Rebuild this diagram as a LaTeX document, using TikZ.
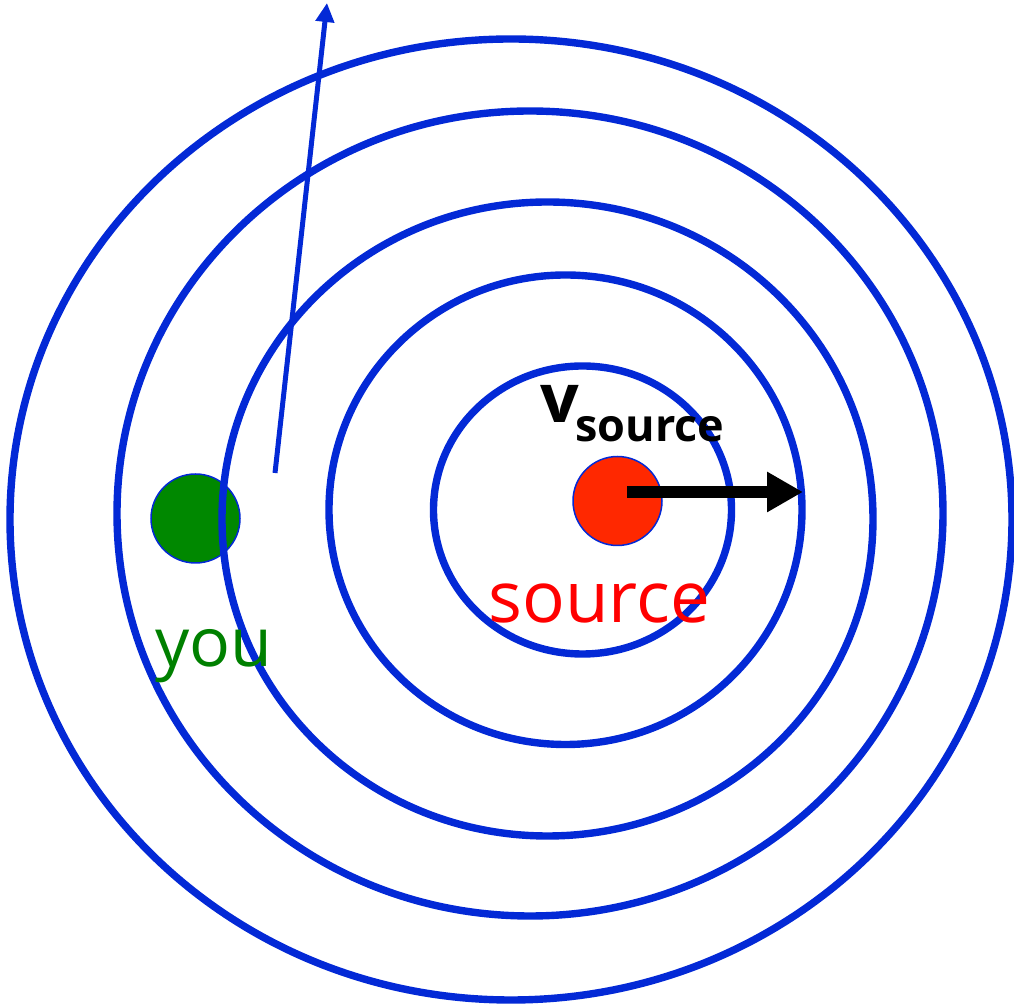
\documentclass[tikz,border=0pt]{standalone}
\usepackage{fontspec}
\setmainfont{Open Sans}
\usetikzlibrary{arrows.meta}
\definecolor{waveblue}{RGB}{3,41,214}
\definecolor{dotgreen}{RGB}{0,136,0}
\definecolor{dotred}{RGB}{255,40,0}
\definecolor{txtgreen}{RGB}{0,128,0}
\definecolor{txtred}{RGB}{255,0,0}
\begin{document}
\begin{tikzpicture}[x=0.5pt,y=-0.5pt,
  wave/.style={draw=waveblue,line width=3.7pt},
  dot/.style={circle,draw=waveblue,line width=0.75pt,inner sep=0pt,minimum size=44.5pt},
  lbl/.style={anchor=base west,inner sep=0pt}]
\useasboundingbox (0,0) rectangle (1014,1004);
% dots
\node[dot,fill=dotgreen] (youdot) at (195.5,518.5) {};
\node[dot,fill=dotred] (srcdot) at (617.5,501) {};
% wavefronts
\draw[wave] (511,519.5) ellipse [x radius=501, y radius=480.5];
\draw[wave] (530,513.5) ellipse [x radius=413, y radius=402.5];
\draw[wave] (547.5,519) ellipse [x radius=325.5, y radius=317];
\draw[wave] (565.5,509.75) ellipse [x radius=236.5, y radius=234.75];
\draw[wave] (582.5,510) ellipse [x radius=149, y radius=144];
% ray
\coordinate (raystart) at (275,473);
\coordinate (rayend) at (327,3);
\draw[waveblue,line width=2.5pt,-{Triangle[length=9.5pt,width=9pt]}] (raystart) -- (rayend);
% velocity arrow
\coordinate (vstart) at (627,492);
\coordinate (vtip) at (803,492);
\draw[black,line width=6pt,-{Triangle[length=18pt,width=19pt]}] (vstart) -- (vtip);
% labels
\node[lbl,text=txtgreen,font=\fontsize{34}{40}\selectfont] (you) at (155,667) {you};
\node[lbl,text=txtred,font=\fontsize{35.5}{42}\selectfont] (srclabel) at (488,623) {source};
\node[lbl,font=\bfseries\fontsize{34}{40}\selectfont] (vsym) at (540,423) {v};
\node[lbl,font=\bfseries\fontsize{22.5}{27}\selectfont] (vsub) at (575,442) {source};
\end{tikzpicture}
\end{document}
